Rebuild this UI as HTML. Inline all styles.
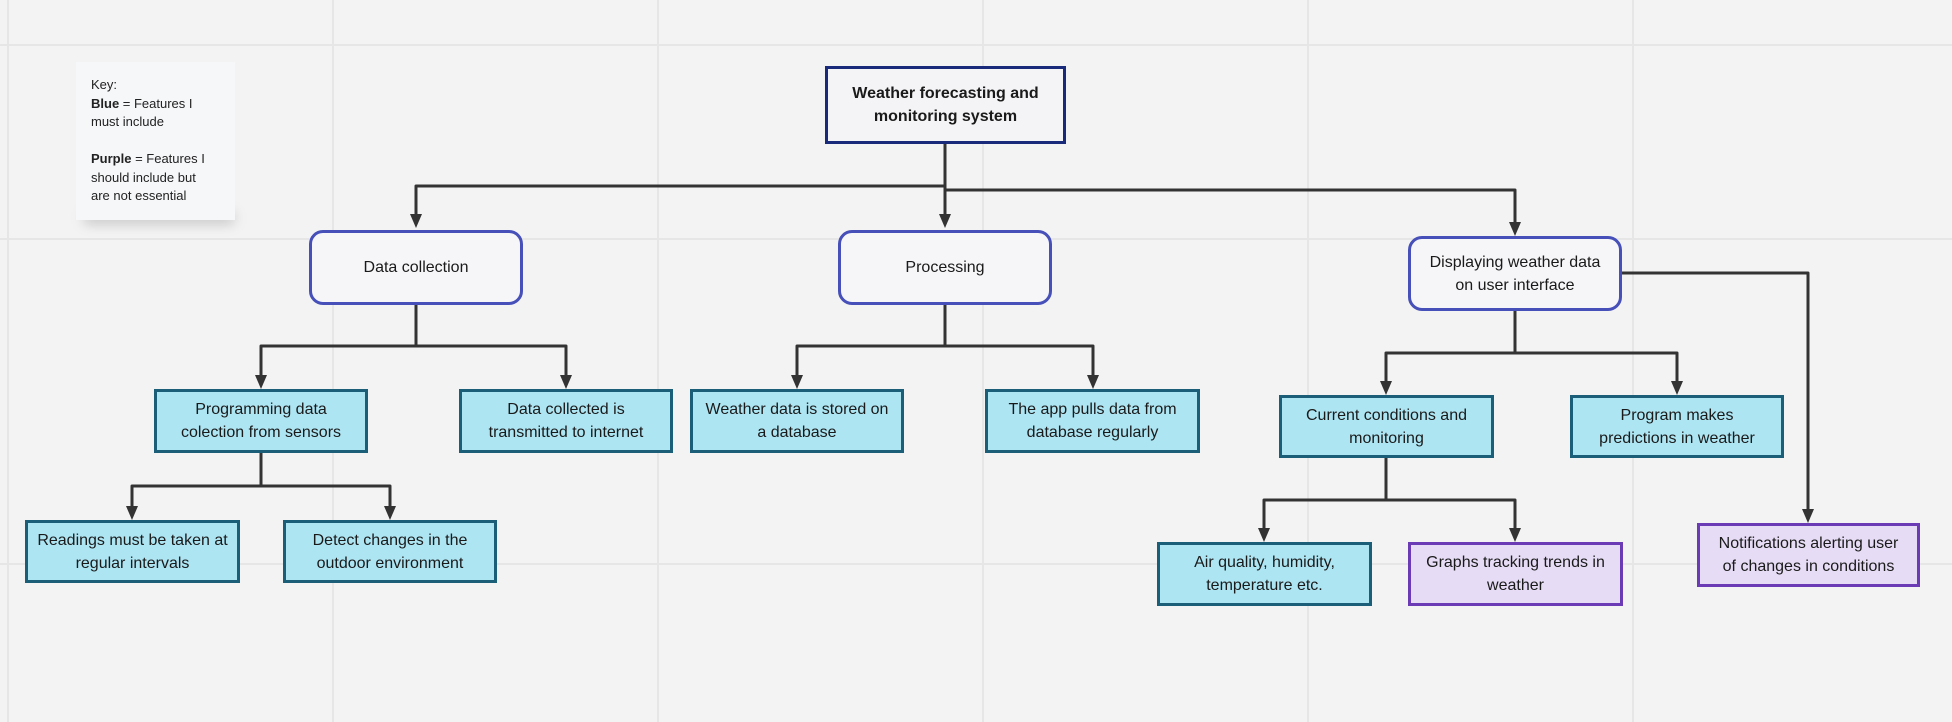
<!DOCTYPE html>
<html><head><meta charset="utf-8"><style>
body{margin:0;width:1952px;height:722px;background:#f3f3f3;overflow:hidden;position:relative;font-family:"Liberation Sans",sans-serif;}
.b{position:absolute;box-sizing:border-box;display:flex;align-items:center;justify-content:center;text-align:center;font-size:16px;line-height:23px;color:#1a1a1a;}
.blue{background:#ade5f3;border:3px solid #1b5e77;}
.pur{background:#e6dcf5;border:3px solid #6a3bb5;}
.rnd{background:#f6f6f9;border:3px solid #4650b8;border-radius:14px;}
</style></head><body>
<svg width="1952" height="722" style="position:absolute;left:0;top:0">
<g stroke="#e6e6e6" stroke-width="2">
<line x1="8" y1="0" x2="8" y2="722"/><line x1="333" y1="0" x2="333" y2="722"/><line x1="658" y1="0" x2="658" y2="722"/><line x1="983" y1="0" x2="983" y2="722"/><line x1="1308" y1="0" x2="1308" y2="722"/><line x1="1633" y1="0" x2="1633" y2="722"/>
<line x1="0" y1="45" x2="1952" y2="45"/><line x1="0" y1="239" x2="1952" y2="239"/><line x1="0" y1="564" x2="1952" y2="564"/>
</g>
<defs><marker id="a" markerWidth="12" markerHeight="14" refX="6" refY="12" orient="auto" markerUnits="userSpaceOnUse"><path d="M0,0 L12,0 L6,14 z" fill="#333" transform="rotate(0)"/></marker></defs>
<g stroke="#333" stroke-width="3" fill="none" stroke-linejoin="round">
<path d="M945 144 V186 H416 V215"/><path d="M945 186 V215"/><path d="M945 190 H1515 V222"/>
<path d="M416 305 V346 H261 V375"/><path d="M416 346 H566 V375"/>
<path d="M945 305 V346 H797 V375"/><path d="M945 346 H1093 V375"/>
<path d="M261 453 V486 H132 V506"/><path d="M261 486 H390 V506"/>
<path d="M1515 311 V353 H1386 V381"/><path d="M1515 353 H1677 V381"/>
<path d="M1622 273 H1808 V509"/>
<path d="M1386 458 V500 H1264 V528"/><path d="M1386 500 H1515 V528"/>
</g>
<g fill="#333">
<path d="M410 214 h12 l-6 14z"/><path d="M939 214 h12 l-6 14z"/><path d="M1509 222 h12 l-6 14z"/>
<path d="M255 375 h12 l-6 14z"/><path d="M560 375 h12 l-6 14z"/><path d="M791 375 h12 l-6 14z"/><path d="M1087 375 h12 l-6 14z"/>
<path d="M126 506 h12 l-6 14z"/><path d="M384 506 h12 l-6 14z"/>
<path d="M1380 381 h12 l-6 14z"/><path d="M1671 381 h12 l-6 14z"/><path d="M1802 509 h12 l-6 14z"/>
<path d="M1258 528 h12 l-6 14z"/><path d="M1509 528 h12 l-6 14z"/>
</g>
</svg>
<div style="position:absolute;left:84px;top:212px;width:150px;height:12px;background:rgba(0,0,0,0.18);filter:blur(6px);"></div>
<div style="position:absolute;left:76px;top:62px;width:159px;height:158px;background:#f6f7f9;box-sizing:border-box;padding:14px 0 0 15px;font-size:13px;line-height:18.5px;color:#222;">Key:<br><b>Blue</b> = Features I<br>must include<br><br><b>Purple</b> = Features I<br>should include but<br>are not essential</div>
<div class="b" style="left:825px;top:66px;width:241px;height:78px;background:#f4f4f6;border:3px solid #1a2a7a;font-weight:bold;">Weather forecasting and<br>monitoring system</div>
<div class="b rnd" style="left:309px;top:230px;width:214px;height:75px;">Data collection</div>
<div class="b rnd" style="left:838px;top:230px;width:214px;height:75px;">Processing</div>
<div class="b rnd" style="left:1408px;top:236px;width:214px;height:75px;">Displaying weather data<br>on user interface</div>
<div class="b blue" style="left:154px;top:389px;width:214px;height:64px;">Programming data<br>colection from sensors</div>
<div class="b blue" style="left:459px;top:389px;width:214px;height:64px;">Data collected is<br>transmitted to internet</div>
<div class="b blue" style="left:690px;top:389px;width:214px;height:64px;">Weather data is stored on<br>a database</div>
<div class="b blue" style="left:985px;top:389px;width:215px;height:64px;">The app pulls data from<br>database regularly</div>
<div class="b blue" style="left:25px;top:520px;width:215px;height:63px;">Readings must be taken at<br>regular intervals</div>
<div class="b blue" style="left:283px;top:520px;width:214px;height:63px;">Detect changes in the<br>outdoor environment</div>
<div class="b blue" style="left:1279px;top:395px;width:215px;height:63px;">Current conditions and<br>monitoring</div>
<div class="b blue" style="left:1570px;top:395px;width:214px;height:63px;">Program makes<br>predictions in weather</div>
<div class="b blue" style="left:1157px;top:542px;width:215px;height:64px;">Air quality, humidity,<br>temperature etc.</div>
<div class="b pur" style="left:1408px;top:542px;width:215px;height:64px;">Graphs tracking trends in<br>weather</div>
<div class="b pur" style="left:1697px;top:523px;width:223px;height:64px;">Notifications alerting user<br>of changes in conditions</div>
</body></html>
